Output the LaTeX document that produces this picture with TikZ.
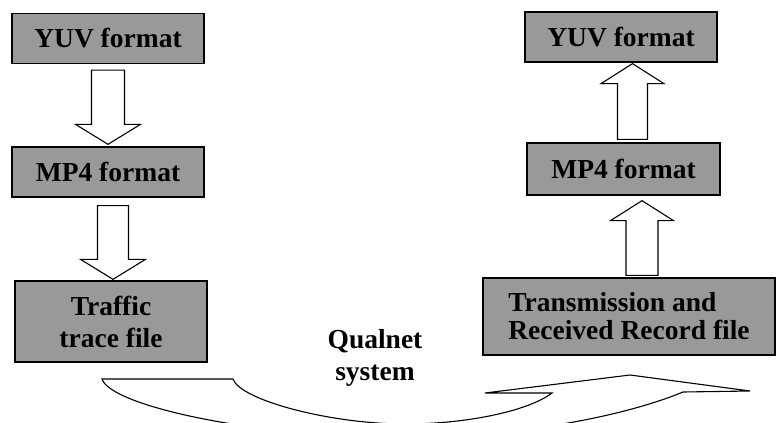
\documentclass[tikz,border=0pt]{standalone}
\usepackage{fontspec}
\setmainfont{Liberation Serif}
\usetikzlibrary{calc}

\tikzset{
  fmtbox/.style={draw, line width=1.3pt, fill=black!40, minimum width=192pt, minimum height=50pt,
    inner sep=0pt, align=center, font=\bfseries\fontsize{27.5}{32}\selectfont},
  fatarrow/.style={draw, line width=1.1pt, fill=white, line join=miter},
}

% block arrow from tail #1 to tip #2, half shaft #3, half head #4
\newcommand{\blockarrow}[4]{%
  \draw[fatarrow] let \p1=(#1), \p2=(#2), \p3=($(#2)!20pt!(#1)$) in
    (\x1-#3pt,\y1) -- (\x1-#3pt,\y3) -- (\x1-#4pt,\y3) -- (\x2,\y2)
    -- (\x1+#4pt,\y3) -- (\x1+#3pt,\y3) -- (\x1+#3pt,\y1) -- cycle;}

\begin{document}
\begin{tikzpicture}[x=1pt,y=-1pt]
  \useasboundingbox (0,0) rectangle (777,423);
  \clip (0,0) rectangle (777,423);

  % sender side
  \node[fmtbox] (yuvL) at (108,38.5) {YUV format};
  \node[fmtbox] (mp4L) at (108,172) {MP4 format};
  \node[fmtbox, minimum height=81pt] (traceL) at (111,321.5) {Traffic\\trace file};

  % receiver side
  \node[fmtbox] (yuvR) at (621,37) {YUV format};
  \node[fmtbox, minimum width=193pt, minimum height=52pt] (mp4R) at (623.5,169) {MP4 format};
  \node[fmtbox, minimum width=292pt, minimum height=77pt, align=left,
    font=\bfseries\fontsize{27.5}{28}\selectfont] (recR) at (629,316.5) {Transmission and\\Received Record file};

  \node[font=\bfseries\fontsize{27.5}{32}\selectfont, align=center] (qual) at (375,358) {Qualnet\\system};

  % arrow ends
  \coordinate (l1a) at ($(yuvL.south)+(0,6)$);
  \coordinate (l1b) at ($(mp4L.north)+(0,-2)$);
  \coordinate (l2a) at ($(mp4L.south)+(5,8)$);
  \coordinate (l2b) at ($(traceL.north)+(2,-1)$);
  \coordinate (r1a) at ($(mp4R.north)+(9,-3)$);
  \coordinate (r1b) at ($(yuvR.south)+(11.5,1)$);
  \coordinate (r2a) at ($(recR.north)+(13,-2)$);
  \coordinate (r2b) at ($(mp4R.south)+(18.5,5)$);

  \blockarrow{l1a}{l1b}{16.5}{32.5}
  \blockarrow{l2a}{l2b}{15.5}{32.5}
  \blockarrow{r1a}{r1b}{15}{31.5}
  \blockarrow{r2a}{r2b}{16}{31.5}

  % curved arrow through the simulator
  \draw[fatarrow] (102,379) -- (233,379) .. controls (240,400) and (330,424) .. (405,424)
    .. controls (470,424) and (530,410) .. (552,393) -- (485,393) -- (630,375) -- (750,391)
    -- (683,392) .. controls (640,410) and (540,437) .. (400,437)
    .. controls (250,437) and (110,405) .. (102,379) -- cycle;
\end{tikzpicture}
\end{document}
